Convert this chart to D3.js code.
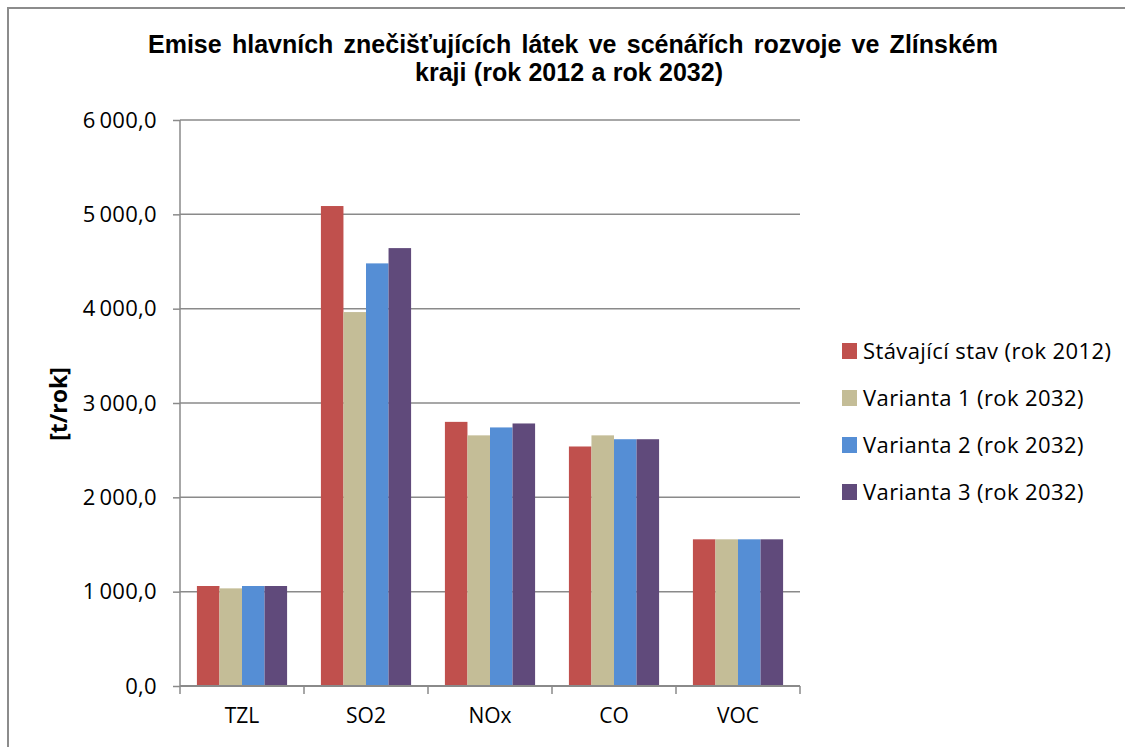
<!DOCTYPE html>
<html><head><meta charset="utf-8">
<script src="https://cdn.jsdelivr.net/npm/d3@7"></script>
<style>
html,body{margin:0;padding:0;background:#fff;}
svg{display:block;}
</style></head>
<body>
<script>
const categories = ["TZL", "SO2", "NOx", "CO", "VOC"];
const seriesNames = ["Stávající stav (rok 2012)", "Varianta 1 (rok 2032)", "Varianta 2 (rok 2032)", "Varianta 3 (rok 2032)"];
const stav2012 = [1060, 5088, 2800, 2539, 1555];
const varianta1 = [1035, 3964, 2657, 2657, 1555];
const varianta2 = [1060, 4480, 2741, 2616, 1555];
const varianta3 = [1060, 4642, 2783, 2616, 1555];
const yTicks = [0, 1000, 2000, 3000, 4000, 5000, 6000];
const colors = ["#C0504D", "#C4BD97", "#558ED5", "#604A7B"];
const titleLines = ["Emise hlavních znečišťujících látek ve scénářích rozvoje ve Zlínském", "kraji (rok 2012 a rok 2032)"];
const yTitle = "[t/rok]";

(function () {
const series = [stav2012, varianta1, varianta2, varianta3];
const W = 1125, H = 747;
const svg = d3.select("body").append("svg").attr("width", W).attr("height", H);

// chart border
svg.append("path").attr("d", `M8,${H+5} L8,8 L${W+5},8`).attr("fill", "none")
  .attr("stroke", "#8c8c8c").attr("stroke-width", 2);

const pL = 180, pR = 800, pT = 120, pB = 686;
const x0 = d3.scaleBand().domain(categories).range([pL, pR]).paddingInner(0).paddingOuter(0);
const y = d3.scaleLinear().domain([0, 6000]).range([pB, pT]);
const groupW = x0.bandwidth() * 4 / 5.5;
const x1 = d3.scaleBand().domain(d3.range(4)).range([0, groupW]);

const font = "'Open Sans', sans-serif";

// gridlines
svg.append("g").selectAll("line").data(yTicks.filter(d => d > 0)).join("line")
  .attr("x1", pL).attr("x2", pR).attr("y1", d => y(d)).attr("y2", d => y(d))
  .attr("stroke", "#8a8a8a").attr("stroke-width", 1.5);

// bars
const g = svg.append("g");
categories.forEach((c, i) => {
  series.forEach((s, j) => {
    g.append("rect")
      .attr("x", x0(c) + (x0.bandwidth() - groupW) / 2 + x1(j))
      .attr("y", y(s[i]))
      .attr("width", x1.bandwidth())
      .attr("height", y(0) - y(s[i]))
      .attr("fill", colors[j]);
  });
});

// y axis
const fmt = d => {
  const s = d3.format(",.1f")(d);
  return s.replace(/,/g, "\u2009").replace(".", ",");
};
const yAxis = svg.append("g").attr("transform", `translate(${pL},0)`)
  .call(d3.axisLeft(y).tickValues(yTicks).tickSize(7).tickPadding(16).tickFormat(fmt));
yAxis.select(".domain").attr("stroke", "#8a8a8a").attr("stroke-width", 1.5).attr("d", `M0,${pT}V${pB}`);
yAxis.selectAll(".tick line").attr("stroke", "#8a8a8a").attr("stroke-width", 1.5);
yAxis.selectAll(".tick text").attr("font-family", font).attr("font-size", 22).attr("fill", "#000")
  .attr("letter-spacing", 0.3);

// x axis
const xAxis = svg.append("g").attr("transform", `translate(0,${pB})`)
  .call(d3.axisBottom(x0).tickSize(0).tickPadding(22));
xAxis.select(".domain").attr("stroke", "#8a8a8a").attr("stroke-width", 2).attr("d", `M${pL},0H${pR}`);
xAxis.selectAll(".tick text").attr("font-family", font).attr("font-size", 21).attr("fill", "#000");
svg.append("g").selectAll("line").data(d3.range(6)).join("line")
  .attr("x1", d => pL + d * x0.bandwidth()).attr("x2", d => pL + d * x0.bandwidth())
  .attr("y1", pB).attr("y2", pB + 8).attr("stroke", "#8a8a8a").attr("stroke-width", 1.5);

// title
const titleSpec = [{t: titleLines[0], x: 573, y: 53, w: 850}, {t: titleLines[1], x: 569, y: 81, w: 308}];
titleSpec.forEach(s => {
  const t = svg.append("text").attr("x", s.x).attr("y", s.y).attr("text-anchor", "middle")
    .attr("font-family", "Arial, 'Liberation Sans', sans-serif").attr("font-weight", "bold").attr("font-size", 25)
    .text(s.t);
  const nat = t.node().getComputedTextLength();
  const nSp = s.t.split(" ").length - 1;
  if (nat < s.w) t.attr("word-spacing", (s.w - nat) / nSp);
});

// y title
svg.append("text").attr("transform", `translate(67,404) rotate(-90)`).attr("text-anchor", "middle")
  .attr("font-family", font).attr("font-weight", "bold").attr("font-size", 23).text(yTitle);

// legend
const leg = svg.append("g");
seriesNames.forEach((n, j) => {
  const cy = 351 + j * 47;
  leg.append("rect").attr("x", 842).attr("y", cy - 8).attr("width", 15).attr("height", 16).attr("fill", colors[j]);
  leg.append("text").attr("x", 863).attr("y", cy + 8).attr("font-family", font).attr("font-size", 22)
    .attr("letter-spacing", 0.4).text(n);
});
})();
</script>
</body></html>
